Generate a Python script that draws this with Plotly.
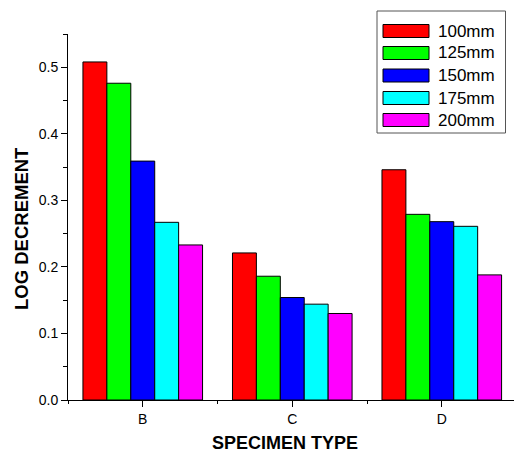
import plotly.graph_objects as go

categories = ["B", "C", "D"]
series_names = ["100mm", "125mm", "150mm", "175mm", "200mm"]
v100 = [0.508, 0.221, 0.346]
v125 = [0.476, 0.186, 0.279]
v150 = [0.359, 0.154, 0.268]
v175 = [0.267, 0.144, 0.261]
v200 = [0.233, 0.130, 0.188]
colors = ["#FF0000", "#00FF00", "#0000FF", "#00FFFF", "#FF00FF"]
y_ticks = [0.0, 0.1, 0.2, 0.3, 0.4, 0.5]
x_title = "SPECIMEN TYPE"
y_title = "LOG DECREMENT"

series_values = [v100, v125, v150, v175, v200]
xpos = list(range(len(categories)))

W, H = 514, 452
L, R, T, B = 68, 0, 34, 52
pw, ph = W - L - R, H - T - B

def fx(px):
    return (px - L) / pw

def fy(py):
    return (H - B - py) / ph

fig = go.Figure()
for name, vals, col in zip(series_names, series_values, colors):
    fig.add_trace(go.Bar(
        x=xpos, y=vals, name=name,
        marker=dict(color=col, line=dict(color="#000000", width=1)),
        showlegend=False,
    ))

FONT = "Liberation Sans, Arial, sans-serif"

# custom legend box
shapes = [dict(type="rect", xref="paper", yref="paper",
               x0=fx(377), x1=fx(505.5), y0=fy(133), y1=fy(11),
               line=dict(color="#555555", width=1), fillcolor="white", layer="above")]
annotations = []
centers = [31, 53, 75.5, 98, 120]
for name, col, cy in zip(series_names, colors, centers):
    shapes.append(dict(type="rect", xref="paper", yref="paper",
                       x0=fx(383), x1=fx(429), y0=fy(cy + 6.5), y1=fy(cy - 6.5),
                       line=dict(color="#000000", width=1), fillcolor=col, layer="above"))
    annotations.append(dict(xref="paper", yref="paper", x=fx(436), y=fy(cy),
                            text=name, showarrow=False, xanchor="left", yanchor="middle",
                            font=dict(family=FONT, size=17, color="black")))

# axis titles placed as annotations
annotations.append(dict(xref="paper", yref="paper", x=fx(21), y=fy(229),
                        text="<b>%s</b>" % y_title, textangle=-90, showarrow=False,
                        xanchor="center", yanchor="middle",
                        font=dict(family=FONT, size=18.5, color="black")))
annotations.append(dict(xref="paper", yref="paper", x=fx(285), y=fy(443),
                        text="<b>%s</b>" % x_title, showarrow=False,
                        xanchor="center", yanchor="middle",
                        font=dict(family=FONT, size=18, color="black")))

fig.update_layout(
    width=W, height=H,
    margin=dict(l=L, r=R, t=T, b=B),
    paper_bgcolor="white", plot_bgcolor="white",
    barmode="group", bargap=0.2, bargroupgap=0,
    font=dict(family=FONT, size=13, color="black"),
    shapes=shapes, annotations=annotations,
    xaxis=dict(
        range=[-0.5, 2.483],
        tickmode="array", tickvals=xpos, ticktext=categories,
        ticks="outside", ticklen=6, tickwidth=1, tickcolor="black",
        minor=dict(ticks="outside", ticklen=3, tickwidth=1, tickcolor="black",
                   tick0=-0.5, dtick=1, showgrid=False),
        showline=True, linecolor="black", linewidth=1,
        showgrid=False, zeroline=False,
        tickfont=dict(family=FONT, size=14),
        automargin=False,
    ),
    yaxis=dict(
        range=[0, 0.55],
        tickmode="array", tickvals=y_ticks, tickformat=".1f",
        ticks="outside", ticklen=6, tickwidth=1, tickcolor="black",
        minor=dict(ticks="outside", ticklen=4, tickwidth=1, tickcolor="black",
                   tick0=0, dtick=0.05, showgrid=False),
        showline=True, linecolor="black", linewidth=1,
        showgrid=False, zeroline=False,
        tickfont=dict(family=FONT, size=14),
        automargin=False,
    ),
)

fig.write_html("out.html", config={"displayModeBar": False},
               post_script="document.body.style.margin='0';document.body.style.padding='0';")
